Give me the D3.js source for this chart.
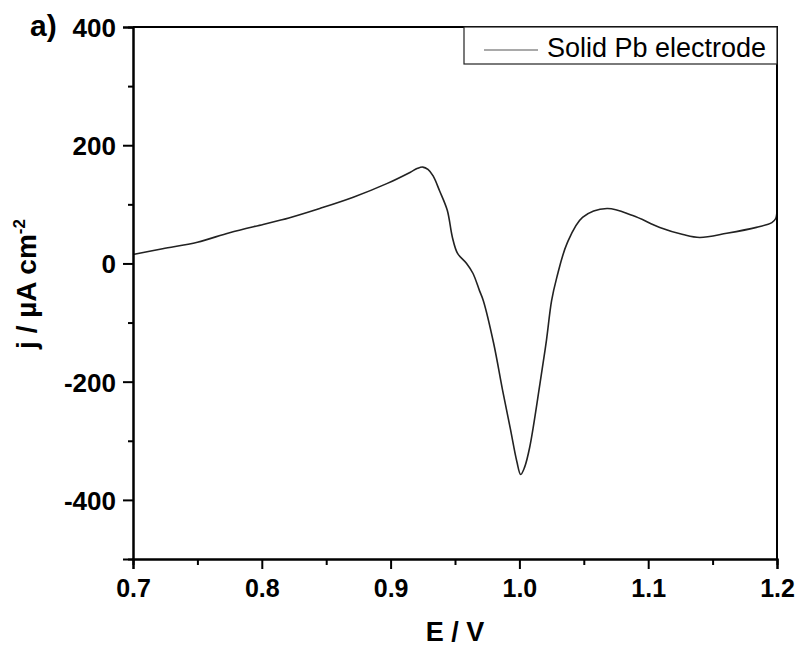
<!DOCTYPE html>
<html>
<head>
<meta charset="utf-8">
<script src="https://cdn.jsdelivr.net/npm/d3@7"></script>
<style>
  body { margin: 0; background: #fff; }
  text { font-family: Arial, 'Liberation Sans', sans-serif; }
</style>
</head>
<body>
<svg id="chart" width="799" height="646"></svg>
<script>
// NOTE: values (E in V, j in µA cm^-2)
const potential = [0.700, 0.723, 0.750, 0.775, 0.801, 0.814, 0.821, 0.845, 0.871,
  0.897, 0.915, 0.921, 0.925, 0.929, 0.933, 0.938, 0.944, 0.948, 0.952, 0.959,
  0.964, 0.969, 0.972, 0.980, 0.987, 0.993, 0.998, 1.001, 1.004, 1.008, 1.016, 1.021,
  1.025, 1.029, 1.037, 1.049, 1.068, 1.088, 1.109, 1.127, 1.140, 1.161,
  1.184, 1.196, 1.199, 1.200]
const current = [15, 25, 36, 52, 66, 73, 77, 93, 112,
  135, 154, 161, 163, 159, 148, 123, 90, 44, 17, 0,
  -17, -46, -63, -135, -215, -280, -335, -357, -345, -311, -203, -130,
  -63, -24, 34, 78, 93, 81, 61, 49, 44, 51,
  61, 69, 76, 90]

const xTicks = [0.7, 0.8, 0.9, 1.0, 1.1, 1.2]
const xMinorTicks = [0.75, 0.85, 0.95, 1.05, 1.15]
const yTicks = [-400, -200, 0, 200, 400]
const yMinorTicks = [-300, -100, 100, 300]
const seriesName = 'Solid Pb electrode'

const svg = d3.select('#chart')
const plotLeft = 133
const plotRight = 777
const plotTop = 27
const plotBottom = 559

const x = d3.scaleLinear().domain([0.7, 1.2]).range([plotLeft, plotRight])
const y = d3.scaleLinear().domain([-500, 400]).range([plotBottom, plotTop])

// NOTE: curve
const points = potential.map((e, i) => ({ e, j: current[i] }))
const line = d3.line()
  .x((d) => x(d.e))
  .y((d) => y(d.j))
  .curve(d3.curveCatmullRom.alpha(0.5))

svg.append('path')
  .datum(points)
  .attr('fill', 'none')
  .attr('stroke', '#222')
  .attr('stroke-width', 1.6)
  .attr('d', line)

// NOTE: frame (top + right, no ticks)
svg.append('path')
  .attr('d', `M${plotLeft},${plotTop}H${plotRight}V${plotBottom}`)
  .attr('fill', 'none')
  .attr('stroke', '#000')
  .attr('stroke-width', 2)

// NOTE: bottom axis
const xAxis = svg.append('g')
  .attr('transform', `translate(0,${plotBottom})`)
  .call(d3.axisBottom(x).tickValues(xTicks).tickFormat(d3.format('.1f')).tickSize(10))
svg.append('g')
  .attr('transform', `translate(0,${plotBottom})`)
  .call(d3.axisBottom(x).tickValues(xMinorTicks).tickFormat('').tickSize(6))

// NOTE: left axis, plain hyphen for minus like the original
const yAxis = svg.append('g')
  .attr('transform', `translate(${plotLeft},0)`)
  .call(d3.axisLeft(y).tickValues(yTicks).tickFormat((d) => String(d)).tickSize(10).tickPadding(7))
svg.append('g')
  .attr('transform', `translate(${plotLeft},0)`)
  .call(d3.axisLeft(y).tickValues(yMinorTicks).tickFormat('').tickSize(5))

svg.selectAll('.domain').attr('stroke-width', 2).attr('stroke', '#000')
svg.selectAll('.tick line').attr('stroke-width', 2).attr('stroke', '#000')
svg.selectAll('.tick text')
  .attr('font-weight', 'bold')
  .attr('fill', '#000')
  .attr('font-family', 'Arial, Liberation Sans, sans-serif')
xAxis.selectAll('.tick text').attr('font-size', 25).attr('y', 38).attr('dy', 0)
yAxis.selectAll('.tick text').attr('font-size', 26).attr('dy', '0.36em')

// NOTE: axis titles
svg.append('text')
  .attr('x', 455)
  .attr('y', 641)
  .attr('text-anchor', 'middle')
  .attr('font-size', 27)
  .attr('font-weight', 'bold')
  .text('E / V')

const yTitle = svg.append('text')
  .attr('transform', 'translate(36,284) rotate(-90)')
  .attr('text-anchor', 'middle')
  .attr('font-size', 28)
  .attr('font-weight', 'bold')
yTitle.append('tspan').text('j / µA cm')
yTitle.append('tspan').attr('dy', -11).attr('font-size', 17).text('-2')

svg.append('text')
  .attr('x', 30)
  .attr('y', 36)
  .attr('font-size', 30)
  .attr('font-weight', 'bold')
  .text('a)')

// NOTE: legend
const legend = svg.append('g')
legend.append('rect')
  .attr('x', 464)
  .attr('y', plotTop)
  .attr('width', plotRight - 464)
  .attr('height', 37)
  .attr('fill', '#fff')
  .attr('stroke', '#222')
  .attr('stroke-width', 1.2)
legend.append('line')
  .attr('x1', 484).attr('x2', 538)
  .attr('y1', 50).attr('y2', 50)
  .attr('stroke', '#555')
  .attr('stroke-width', 1.2)
legend.append('text')
  .attr('x', 547)
  .attr('y', 57)
  .attr('font-size', 27)
  .text(seriesName)
</script>
</body>
</html>
